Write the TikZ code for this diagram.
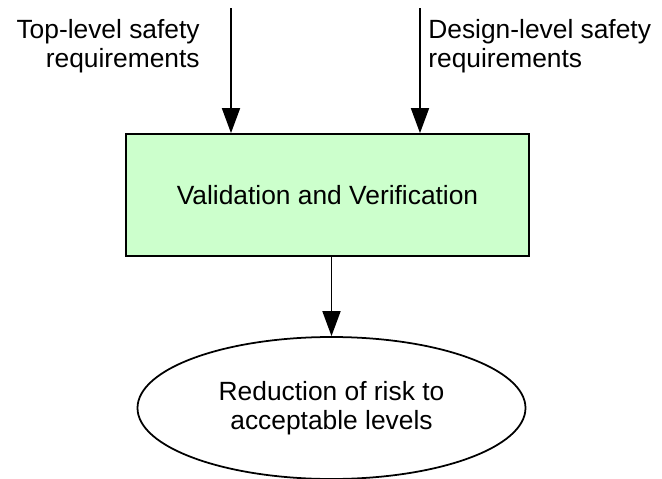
\documentclass[tikz,border=0pt]{standalone}
\usepackage{fontspec}
\setmainfont{Liberation Sans}
\usetikzlibrary{arrows.meta, shapes.geometric}
\definecolor{vvgreen}{RGB}{204,255,204}
\newcommand{\lblfont}{\fontsize{15}{16.5}\selectfont}

\begin{document}
\begin{tikzpicture}[
        flow/.style={line width=1pt, -{Triangle[length=5mm, width=3.6mm]}},
        lbl/.style={font=\lblfont, inner sep=0pt}
    ]

        \useasboundingbox (0, 0) rectangle (13.24, -9.58);

        % boxes
        \node[draw, line width=1pt, fill=vvgreen, minimum width=8.06cm, minimum height=2.44cm,
              font=\lblfont] (vv) at (6.55, -3.9) {Validation and Verification};
        \node[draw, ellipse, line width=1pt, fill=white, minimum width=7.76cm, minimum height=2.84cm,
              inner sep=0pt, align=center, font=\lblfont] (risk) at (6.63, -8.16)
              {Reduction of risk to\\acceptable levels};

        % inputs
        \node[lbl, anchor=east, align=right] (toplbl) at (4.0, -0.93) {Top-level safety\\requirements};
        \node[lbl, anchor=west, align=left] (deslbl) at (8.56, -0.93) {Design-level safety\\requirements};

        \coordinate (topin) at (4.62, -0.16);
        \coordinate (desin) at (8.40, -0.16);

        \draw[flow] (topin) -- (topin |- vv.north);
        \draw[flow] (desin) -- (desin |- vv.north);

        % output
        \draw[flow] (risk.north |- vv.south) -- (risk.north);

    \end{tikzpicture}
\end{document}
